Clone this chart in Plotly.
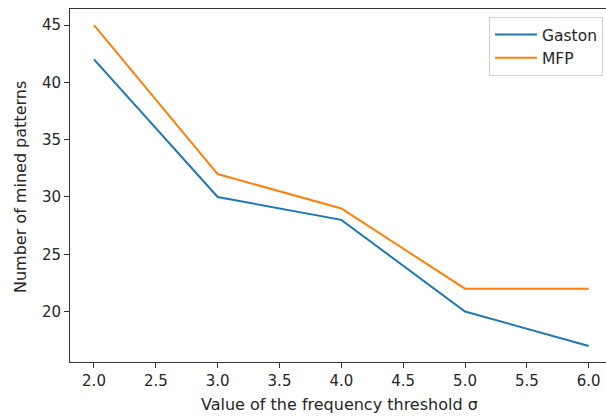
import plotly.graph_objects as go

thresholds = [2.0, 3.0, 4.0, 5.0, 6.0]
gaston = [42, 30, 28, 20, 17]
mfp = [45, 32, 29, 22, 22]
x_ticks = [2.0, 2.5, 3.0, 3.5, 4.0, 4.5, 5.0, 5.5, 6.0]
y_ticks = [20, 25, 30, 35, 40, 45]

FONT = "DejaVu Sans"
W, H = 606, 416
L, R, T, B = 70, 0, 9, 416 - 362
pw, ph = W - L - R, H - T - B
TXT = "#262626"


def px(xs):
    return (xs - L) / pw


def py(ys):
    return (H - B - ys) / ph


fig = go.Figure()
fig.add_trace(go.Scatter(x=thresholds, y=gaston, mode="lines", name="Gaston",
                         line=dict(color="#1f77b4", width=2)))
fig.add_trace(go.Scatter(x=thresholds, y=mfp, mode="lines", name="MFP",
                         line=dict(color="#ff7f0e", width=2)))

fig.update_layout(
    width=W, height=H,
    margin=dict(l=L, r=R, t=T, b=B, pad=0),
    paper_bgcolor="white", plot_bgcolor="white",
    font=dict(family=FONT, size=15, color=TXT),
    showlegend=True,
    hovermode=False,
    legend=dict(x=px(489), y=py(17), xanchor="left", yanchor="top",
                bordercolor="#d0d0d0", borderwidth=1, bgcolor="rgba(255,255,255,0.8)",
                font=dict(family=FONT, size=15.5, color=TXT),
                tracegroupgap=0, itemwidth=42),
    xaxis=dict(range=[1.806, 6.14], tickvals=x_ticks,
               ticktext=[f"{v:.1f}" for v in x_ticks],
               showgrid=False, zeroline=False, showline=True, linecolor="#333",
               linewidth=1, mirror=True, ticks="outside", ticklen=5, tickwidth=1,
               tickcolor="#333", tickfont=dict(size=15, color=TXT)),
    yaxis=dict(range=[15.6, 46.4], tickvals=y_ticks,
               showgrid=False, zeroline=False, showline=True, linecolor="#333",
               linewidth=1, mirror=False, ticks="outside", ticklen=5, tickwidth=1,
               tickcolor="#333", tickfont=dict(size=15, color=TXT)),
    annotations=[
        dict(text="Value of the frequency threshold σ", xref="paper", yref="paper",
             x=px(339.5), y=py(404), xanchor="center", yanchor="middle",
             showarrow=False, font=dict(family=FONT, size=16, color=TXT)),
        dict(text="Number of mined patterns", xref="paper", yref="paper",
             x=px(20), y=py(187), xanchor="center", yanchor="middle",
             textangle=-90, showarrow=False, font=dict(family=FONT, size=16, color=TXT)),
    ],
)

fig.write_html(
    "out.html",
    config={"displayModeBar": False, "staticPlot": True},
    post_script="document.body.style.margin='0';"
                "document.documentElement.style.overflow='hidden';"
                "document.body.style.overflow='hidden';",
)
